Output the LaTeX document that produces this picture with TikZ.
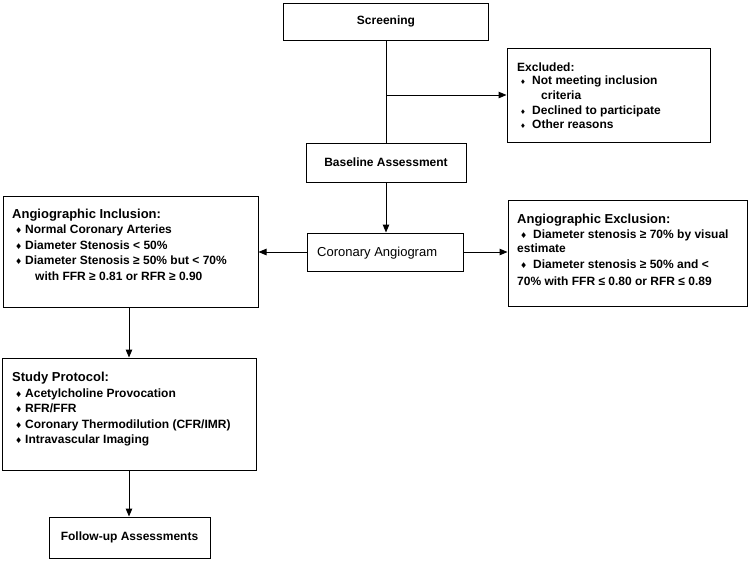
\documentclass[tikz,border=0pt]{standalone}
\usepackage{fontspec}
\setmainfont{Liberation Sans}
\newfontfamily\symfont{DejaVu Sans}
\usetikzlibrary{arrows.meta}
\newcommand\bul{\makebox[10pt][l]{\symfont\fontsize{8}{8}\selectfont ♦}}
\newcommand\bulb{\makebox[12pt][l]{\symfont\fontsize{6.5}{6.5}\selectfont ♦}}
\newcommand\bulc{\makebox[13pt][l]{\symfont\fontsize{8}{8}\selectfont ♦}}
\begin{document}
\begin{tikzpicture}[x=1pt,y=-1pt,
  box/.style={draw, line width=1pt, inner sep=0pt, font=\fontsize{12}{14}\bfseries\selectfont},
  lbl/.style={inner sep=0pt, anchor=base west, font=\fontsize{12}{14}\bfseries\selectfont},
  ttl/.style={lbl, font=\fontsize{13}{15}\bfseries\selectfont},
  arr/.style={line width=1pt, -{Triangle[length=8pt,width=6.5pt]}},
  ln/.style={line width=1pt}]
\useasboundingbox (0,0) rectangle (750,560);

% boxes
\node[box, minimum width=205pt, minimum height=37pt] (scr) at (386,21.5) {Screening};
\node[box, minimum width=203pt, minimum height=94pt] (excl) at (608.5,95) {};
\node[box, minimum width=160pt, minimum height=39pt] (base) at (386,162.5) {Baseline Assessment};
\node[box, minimum width=156pt, minimum height=38pt] (cor) at (385,252) {};
\node[box, minimum width=255pt, minimum height=111pt] (inc) at (130.5,251.5) {};
\node[box, minimum width=239pt, minimum height=106pt] (exc) at (627.5,253) {};
\node[box, minimum width=254pt, minimum height=112pt] (study) at (129,414) {};
\node[box, minimum width=161pt, minimum height=41pt] (fu) at (129.5,537.5) {Follow-up Assessments};

% texts
\node[lbl, font=\fontsize{13}{15}\selectfont] (cortxt) at (317,256) {Coronary Angiogram};

\node[lbl] (exclt0) at (517,71) {Excluded:};
\foreach \x/\y/\t [count=\i] in {
  520/84.5/{\bulb Not meeting inclusion},
  541/99.5/{criteria},
  520/114/{\bulb Declined to participate},
  520/128.5/{\bulb Other reasons}}
  \node[lbl] (exclt\i) at (\x,\y) {\t};

\node[ttl] (inct0) at (12,218) {Angiographic Inclusion:};
\foreach \x/\y/\t [count=\i] in {
  15/233.5/{\bul Normal Coronary Arteries},
  15/249/{\bul Diameter Stenosis < 50\%},
  15/264.5/{\bul Diameter Stenosis ≥ 50\% but < 70\%},
  35/280/{with FFR ≥ 0.81 or RFR ≥ 0.90}}
  \node[lbl] (inct\i) at (\x,\y) {\t};

\node[ttl] (exct0) at (517,223) {Angiographic Exclusion:};
\foreach \x/\y/\t [count=\i] in {
  520/238.3/{\bulc Diameter stenosis ≥ 70\% by visual},
  517/252/{estimate},
  520/268/{\bulc Diameter stenosis ≥ 50\% and <},
  517/285/{70\% with FFR ≤ 0.80 or RFR ≤ 0.89}}
  \node[lbl] (exct\i) at (\x,\y) {\t};

\node[ttl] (stt0) at (12,381.5) {Study Protocol:};
\foreach \x/\y/\t [count=\i] in {
  15/397/{\bul Acetylcholine Provocation},
  15/412.5/{\bul RFR/FFR},
  15/428/{\bul Coronary Thermodilution (CFR/IMR)},
  15/443.5/{\bul Intravascular Imaging}}
  \node[lbl] (stt\i) at (\x,\y) {\t};

% connectors
\draw[ln] (scr.south) -- (base.north);
\draw[arr] (scr.south |- excl.west) -- (excl.west);
\draw[arr] (base.south) -- (base.south |- cor.north);
\draw[arr] (cor.west) -- (cor.west -| inc.east);
\draw[arr] (cor.east) -- (cor.east -| exc.west);
\draw[arr] (study.north |- inc.south) -- (study.north);
\draw[arr] (study.south) -- (study.south |- fu.north);
\end{tikzpicture}
\end{document}
